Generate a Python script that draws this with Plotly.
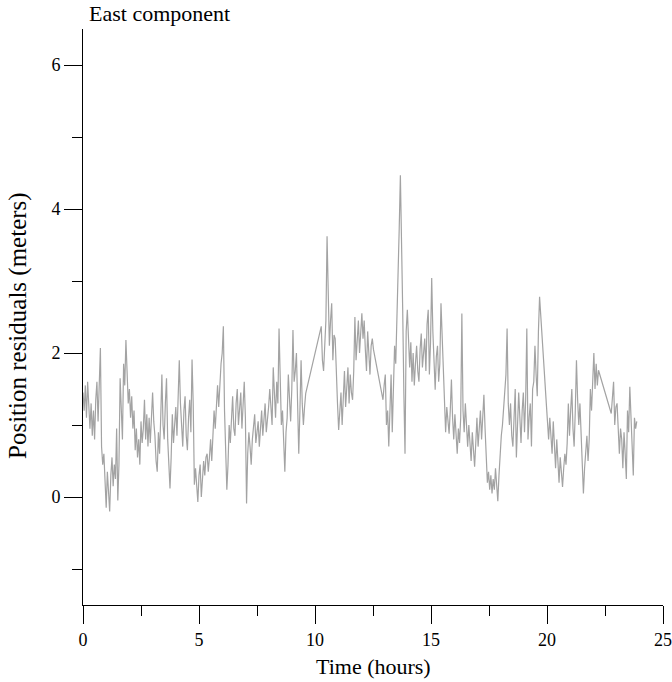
import numpy as np
import plotly.graph_objects as go

# East-component position residuals (meters), one sample every 0.05 h.
# Each block is a continuous stretch of epochs; the line bridges data gaps.
SAMPLE_STEP_H = 0.05

seg1_start = 0.00
seg1_values = [
    1.45, 1.20, 1.55, 1.10, 1.60,   1.25, 0.95, 1.30, 0.85, 1.20,
    0.80, 1.35, 1.60, 1.05, 1.65,   2.07, 0.70, 0.45, 0.60, 0.20,
    -0.15, 0.35, 0.10, -0.20, 0.30, 0.55, 0.15, 0.45, 0.25, 0.95,
    -0.05, 0.45, 1.65, 1.20, 0.80,  1.85, 1.55, 2.18, 1.75, 1.30,
    1.50, 1.10, 1.40, 0.95, 1.20,   0.65, 0.95, 0.55, 0.80, 0.45,
    1.05, 0.75, 0.95, 1.35, 0.80,   1.15, 0.70, 1.10, 0.75, 1.20,
    1.45, 1.05, 0.85, 0.50, 0.35,   0.90, 0.60, 1.10, 1.70, 1.00,
    0.80, 1.30, 1.65, 0.80, 0.45,   0.12, 0.55, 1.15, 0.75, 1.05,
    1.25, 0.85, 1.35, 1.90, 1.30,   1.05, 0.70, 1.20, 1.40, 0.85,
    0.65, 1.10, 1.35, 0.90, 1.91,   1.30, 0.17, 0.40, 0.20, -0.07,
    0.30, 0.45, 0.00, 0.35, 0.50,   0.30, 0.55, 0.60, 0.35, 0.55,
    0.80, 0.50, 0.90, 1.20, 0.95,   1.25, 1.55, 1.25, 1.60, 1.85,
    2.00, 2.37, 1.20, 0.70, 0.10,   0.45, 1.00, 0.75, 1.20, 1.40,
    0.95, 0.85, 1.30, 1.50, 1.00,   1.20, 1.45, 0.95, 1.30, 1.60,
    1.10, -0.09, 0.60, 0.90, 0.70,  0.45, 0.80, 1.00, 1.15, 0.75,
    0.95, 1.05, 0.70, 0.95, 1.20,   0.85, 1.10, 1.30, 0.90, 1.05,
    1.25, 1.50, 1.15, 1.00, 1.80,   1.35, 1.10, 1.60, 1.30, 2.34,
    1.40, 1.00, 1.20, 0.85, 0.35,   0.90, 1.10, 1.70, 1.30, 1.05,
    1.50, 2.32, 1.60, 1.75, 2.00,   1.40, 0.60, 1.20, 1.90, 1.30,
    1.00, 1.25, 1.44,
]

seg2_start = 10.27
seg2_values = [
    2.37, 1.90, 1.75, 2.20, 2.45,   3.62, 2.50, 2.10, 2.45, 2.69,
    1.90, 2.25, 2.20, 1.60, 1.30,   0.93, 1.20, 1.45, 1.00, 1.35,
    1.75, 1.25, 1.55, 1.80, 1.30,   1.70, 1.45, 1.35, 1.75, 2.50,
    1.90, 2.30, 2.45, 2.00, 2.25,   2.55, 2.20, 2.45, 2.05, 1.75,
    2.30, 1.95, 1.70, 2.10, 2.20,   2.05,
]

seg3_start = 12.93
seg3_values = [
    1.35, 1.55, 1.70, 1.00, 1.20,   0.70, 1.40, 1.70, 0.90, 1.60,
    2.10, 1.85, 2.45, 2.80, 3.73,   4.47, 3.15, 2.60, 1.44, 0.60,
    2.30, 2.60, 2.20, 1.80, 2.15,   1.60, 2.00, 1.55, 1.85, 2.10,
    1.75, 1.60, 2.05, 2.27, 1.80,   2.00, 2.20, 1.75, 2.40, 2.60,
    1.70, 2.15, 3.04, 2.30, 1.75,   1.49, 1.95, 2.10, 1.60, 1.85,
    2.69, 2.20, 1.80, 1.15, 0.90,   1.25, 1.00, 0.88, 1.20, 1.63,
    1.10, 0.80, 1.15, 0.90, 0.60,   0.95, 0.75, 1.10, 2.55, 1.20,
    0.90, 1.30, 1.05, 0.70, 1.00,   0.80, 0.50, 0.90, 0.65, 0.42,
    0.75, 1.10, 0.70, 0.95, 1.20,   0.80, 1.05, 1.42, 0.95, 0.40,
    0.20, 0.35, 0.10, 0.30, 0.05,   0.25, 0.10, 0.40, 0.15, -0.06,
    0.30, 0.60, 0.85, 1.00, 1.25,   1.40, 1.70, 2.34, 1.30, 1.00,
    1.30, 0.85, 0.70, 1.10, 1.50,   0.55, 0.90, 1.45, 1.10, 0.75,
    1.20, 1.45, 0.90, 1.35, 2.34,   0.80, 1.10, 1.30, 0.70, 1.50,
    1.60, 2.10, 1.70, 1.40, 2.30,   2.78,
]

seg4_start = 19.97
seg4_values = [
    1.30, 1.05, 0.80, 1.10, 0.85,   0.60, 1.05, 0.75, 0.40, 0.80,
    0.55, 0.20, 0.55, 0.35, 0.14,   0.40, 0.60, 0.45, 0.75, 1.30,
    0.85, 1.20, 1.50, 0.95, 0.70,   1.20, 1.90, 1.35, 1.00, 1.30,
    0.85, 0.50, 0.05, 0.40, 0.60,   0.85, 0.50, 0.80, 1.50, 1.20,
    1.60, 2.00, 1.50, 1.85, 1.55,   1.76,
]

seg5_start = 22.77
seg5_values = [
    1.16, 1.35, 1.60, 1.00, 1.25,   1.30, 0.80, 0.60, 0.95, 0.80,
    0.40, 0.90, 0.60, 0.25, 1.20,   0.90, 1.53, 1.10, 0.80, 0.30,
    1.10, 0.95, 1.05,
]

segments = [
    (seg1_start, seg1_values),
    (seg2_start, seg2_values),
    (seg3_start, seg3_values),
    (seg4_start, seg4_values),
    (seg5_start, seg5_values),
]

hours = []
residuals = []
for start, vals in segments:
    hours.extend(start + SAMPLE_STEP_H * np.arange(len(vals)))
    residuals.extend(vals)

x_tick_vals = [0, 5, 10, 15, 20, 25]
y_tick_vals = [0, 2, 4, 6]

SERIF = "Liberation Serif, Times New Roman, serif"

fig = go.Figure()
fig.add_trace(go.Scatter(
    x=hours, y=residuals, mode="lines",
    line=dict(color="#a3a3a3", width=1.2),
    hoverinfo="skip", showlegend=False,
))

fig.update_layout(
    width=672, height=682,
    margin=dict(l=83, r=9, t=29, b=77, autoexpand=False),
    paper_bgcolor="white", plot_bgcolor="white",
    font=dict(family=SERIF, size=18, color="black"),
    annotations=[
        dict(text="East component", xref="paper", yref="paper",
             x=0, y=1, xanchor="left", yanchor="bottom",
             xshift=4, yshift=1, showarrow=False,
             font=dict(family=SERIF, size=22, color="black")),
        dict(text="Position residuals (meters)", xref="paper", yref="paper",
             x=0, y=0.5, xanchor="center", yanchor="middle", textangle=-90,
             xshift=-65, yshift=-9, showarrow=False,
             font=dict(family=SERIF, size=25, color="black")),
        dict(text="Time (hours)", xref="paper", yref="paper",
             x=0.5, y=0, xanchor="center", yanchor="middle",
             xshift=0, yshift=-61, showarrow=False,
             font=dict(family=SERIF, size=22, color="black")),
    ],
)

fig.update_xaxes(
    range=[0, 25], showgrid=False, zeroline=False, automargin=False,
    showline=True, linecolor="black", linewidth=1,
    ticks="outside", ticklen=18, tickwidth=1, tickcolor="black",
    tickvals=x_tick_vals, ticktext=[str(v) for v in x_tick_vals],
    minor=dict(ticks="outside", ticklen=10, tickwidth=1, tickcolor="black",
               dtick=2.5, tick0=0, showgrid=False),
    tickfont=dict(family=SERIF, size=18),
)

fig.update_yaxes(
    range=[-1.5, 6.5], showgrid=False, zeroline=False, automargin=False,
    showline=True, linecolor="black", linewidth=1,
    ticks="outside", ticklen=18, tickwidth=1, tickcolor="black",
    tickvals=y_tick_vals, ticktext=[str(v) for v in y_tick_vals],
    minor=dict(ticks="outside", ticklen=10, tickwidth=1, tickcolor="black",
               dtick=1, tick0=0, showgrid=False),
    tickfont=dict(family=SERIF, size=18),
)

fig.write_html("out.html")
